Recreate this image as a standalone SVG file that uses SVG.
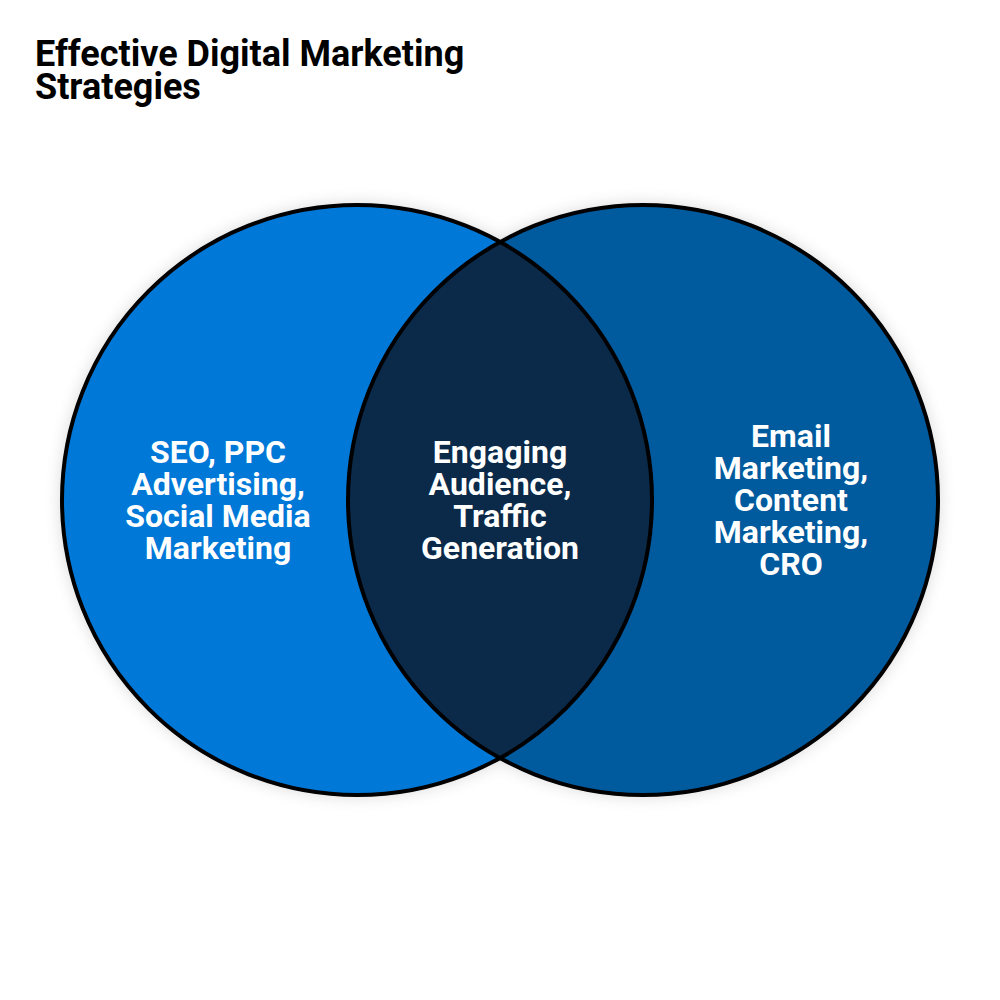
<svg xmlns="http://www.w3.org/2000/svg" width="1000" height="1000" viewBox="0 0 1000 1000">
<style>
.title{font-family:Roboto,"Liberation Sans",sans-serif;font-weight:700;font-size:36px;fill:#000}
.lbl{font-family:Roboto,"Liberation Sans",sans-serif;font-weight:700;font-size:32px;fill:#fff;text-anchor:middle}
.ring{fill:none;stroke:#000;stroke-width:4}
</style>
<defs>
<filter id="sh" x="-20%" y="-20%" width="140%" height="140%">
<feGaussianBlur in="SourceAlpha" stdDeviation="9"/>
<feComponentTransfer><feFuncA type="linear" slope="0.18"/></feComponentTransfer>
<feMerge><feMergeNode/><feMergeNode in="SourceGraphic"/></feMerge>
</filter>
<clipPath id="clipL"><circle cx="357" cy="500" r="295"/></clipPath>
</defs>
<rect width="1000" height="1000" fill="#fff"/>
<g id="title">
<text class="title" x="35" y="66">Effective Digital Marketing<tspan x="35" dy="33">Strategies</tspan></text>
</g>
<g id="shadows" filter="url(#sh)">
<circle cx="357" cy="500" r="295" fill="#0078D7"/>
<circle cx="643" cy="500" r="295" fill="#005A9E"/>
</g>
<g id="left-set">
<circle cx="357" cy="500" r="295" fill="#0078D7"/>
</g>
<g id="right-set">
<circle cx="643" cy="500" r="295" fill="#005A9E"/>
</g>
<g id="intersection">
<circle cx="643" cy="500" r="295" fill="#0B2A4A" clip-path="url(#clipL)"/>
</g>
<g id="outlines">
<circle class="ring" cx="357" cy="500" r="295"/>
<circle class="ring" cx="643" cy="500" r="295"/>
</g>
<g id="left-label">
<text class="lbl" x="218" y="463">SEO, PPC<tspan x="218" dy="32">Advertising,</tspan><tspan x="218" dy="32">Social Media</tspan><tspan x="218" dy="32">Marketing</tspan></text>
</g>
<g id="center-label">
<text class="lbl" x="500" y="463">Engaging<tspan x="500" dy="32">Audience,</tspan><tspan x="500" dy="32">Traffic</tspan><tspan x="500" dy="32">Generation</tspan></text>
</g>
<g id="right-label">
<text class="lbl" x="791" y="447">Email<tspan x="791" dy="32">Marketing,</tspan><tspan x="791" dy="32">Content</tspan><tspan x="791" dy="32">Marketing,</tspan><tspan x="791" dy="32">CRO</tspan></text>
</g>
</svg>
